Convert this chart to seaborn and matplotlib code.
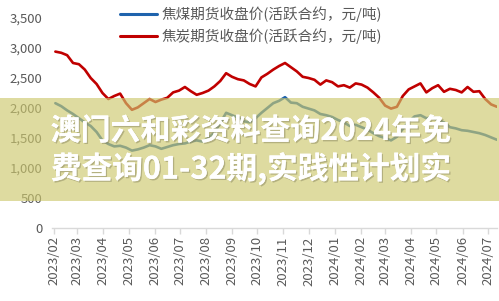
import matplotlib
matplotlib.use("Agg")
import matplotlib.pyplot as plt
import matplotlib.dates as mdates
import matplotlib.patheffects as pe
from matplotlib.patches import Rectangle
from matplotlib.lines import Line2D
from matplotlib.ticker import FuncFormatter
import pandas as pd
import seaborn as sns

sns.set_theme(style="white")
plt.rcParams['font.family'] = ['Noto Sans CJK SC', 'DejaVu Sans']

# weekly observation dates
dates = pd.date_range("2023-02-03", periods=76, freq="7D")

coal_label = "焦煤期货收盘价(活跃合约，元/吨)"
coke_label = "焦炭期货收盘价(活跃合约，元/吨)"

coke = [2940, 2920, 2880, 2750, 2730, 2640, 2500, 2400, 2250, 2150,
        2200, 2240, 2080, 1970, 2010, 2080, 2150, 2100, 2140, 2170,
        2260, 2290, 2350, 2280, 2220, 2250, 2290, 2360, 2450, 2580,
        2520, 2480, 2460, 2400, 2360, 2510, 2570, 2640, 2700, 2750,
        2680, 2610, 2520, 2500, 2470, 2390, 2460, 2430, 2360, 2380,
        2340, 2410, 2390, 2340, 2260, 2170, 2040, 1990, 2020, 2200,
        2310, 2360, 2410, 2260, 2330, 2380, 2270, 2320, 2300, 2260,
        2350, 2270, 2280, 2150, 2060, 2020]

coal = [2080, 2030, 1960, 1900, 1830, 1760, 1700, 1600, 1460, 1400,
        1360, 1370, 1340, 1290, 1310, 1340, 1380, 1360, 1320, 1350,
        1380, 1400, 1410, 1440, 1460, 1440, 1500, 1590, 1750, 1920,
        1880, 1840, 1780, 1760, 1830, 1920, 2000, 2080, 2120, 2180,
        2090, 2080, 2020, 1990, 1960, 1900, 1880, 1850, 1800, 1760,
        1700, 1720, 1680, 1640, 1580, 1530, 1500, 1460, 1520, 1650,
        1770, 1860, 1880, 1830, 1840, 1800, 1760, 1680, 1660, 1630,
        1620, 1600, 1580, 1550, 1510, 1470]

yticks = [0, 500, 1000, 1500, 2000, 2500, 3000, 3500]
xtick_months = pd.date_range("2023-02-01", "2024-07-01", freq="MS")

overlay_lines = ["澳门六和彩资料查询2024年免", "费查询01-32期,实践性计划实"]

df = pd.DataFrame({
    "date": list(dates) * 2,
    "price": coal + coke,
    "series": [coal_label] * len(coal) + [coke_label] * len(coke),
})

W, H = 499, 301
fig = plt.figure(figsize=(W / 100, H / 100), dpi=100)
ax = fig.add_axes([52 / W, (H - 228) / H, (497 - 52) / W, (228 - 18) / H])

palette = {coal_label: "#1f63ad", coke_label: "#c00000"}
sns.lineplot(data=df, x="date", y="price", hue="series", palette=palette,
             linewidth=1.9, ax=ax, legend=False)

ax.set_ylim(0, 3500)
ax.set_xlim(pd.Timestamp("2023-01-30"), pd.Timestamp("2024-07-12"))
ax.set_yticks(yticks)
ax.yaxis.set_major_formatter(FuncFormatter(lambda v, p: f"{int(v):,}"))
ax.set_xticks(xtick_months)
ax.xaxis.set_major_formatter(mdates.DateFormatter("%Y/%m"))
ax.set_xlabel("")
ax.set_ylabel("")
for s in ["top", "right", "left"]:
    ax.spines[s].set_visible(False)
ax.spines["bottom"].set_color("#d9d9d9")
ax.spines["bottom"].set_linewidth(1.0)
ax.tick_params(axis="x", which="major", direction="out", length=4, width=1,
               color="#d9d9d9", labelsize=9.5, labelcolor="#595959",
               rotation=90, pad=2, bottom=True)
ax.tick_params(axis="y", length=0, labelsize=9.5, labelcolor="#595959", pad=7)
ax.grid(False)

handles = [Line2D([], [], color=palette[coal_label], lw=2.2),
           Line2D([], [], color=palette[coke_label], lw=2.2)]
leg = fig.legend(handles, [coal_label, coke_label], loc="upper left",
                 bbox_to_anchor=(116 / W, 1 - 2 / H), frameon=False,
                 fontsize=10.5, handlelength=2.5, handletextpad=0.35,
                 labelspacing=0.45, borderaxespad=0, borderpad=0.3)
for t in leg.get_texts():
    t.set_color("#595959")

# semi-transparent overlay band
band = Rectangle((0, (H - 201) / H), 1, 103 / H, transform=fig.transFigure,
                 facecolor=(205 / 255, 200 / 255, 109 / 255), alpha=0.65,
                 edgecolor="none", zorder=10)
fig.patches.append(band)

renderer = fig.canvas.get_renderer()
ys = [131, 169]
for line, yp in zip(overlay_lines, ys):
    t = fig.text(251 / W, 1 - yp / H, line, ha="center", va="center",
                 fontsize=20, fontweight="bold", color="white",
                 family=['Noto Sans CJK SC', 'DejaVu Sans'], zorder=11,
                 path_effects=[pe.withSimplePatchShadow(offset=(1, -1), shadow_rgbFace="#8a8760", alpha=0.5),
                               pe.Normal()])
    wpx = t.get_window_extent(renderer).width
    t.set_fontsize(20 * 400 / wpx)

fig.savefig("out.png", dpi=100)
